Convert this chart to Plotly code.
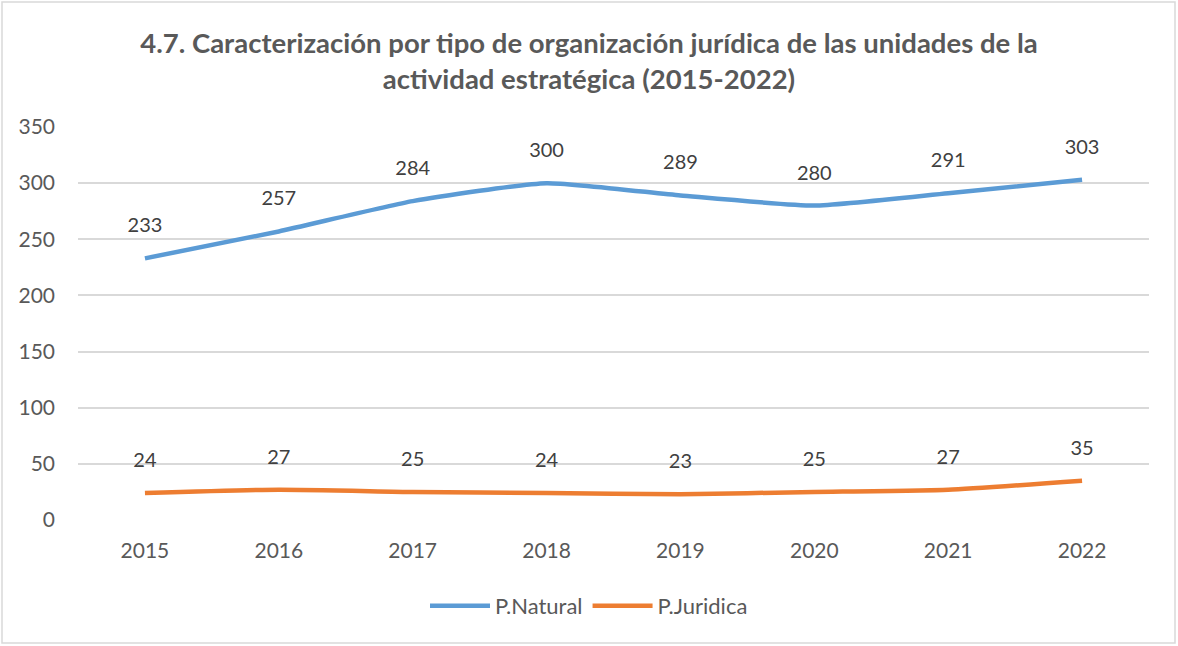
import plotly.graph_objects as go

years = ["2015", "2016", "2017", "2018", "2019", "2020", "2021", "2022"]
natural = [233, 257, 284, 300, 289, 280, 291, 303]
juridica = [24, 27, 25, 24, 23, 25, 27, 35]
y_ticks = [0, 50, 100, 150, 200, 250, 300, 350]

FONT = "Lato, 'Open Sans', sans-serif"
BLUE = "#5B9BD5"
ORANGE = "#ED7D31"

W, H = 1178, 646
ML, MR, MT, MB = 78, 29, 127, 126

fig = go.Figure()
for name, vals, color in [("P.Natural", natural, BLUE), ("P.Juridica", juridica, ORANGE)]:
    fig.add_trace(go.Scatter(
        x=years, y=vals, name=name, mode="lines",
        line=dict(color=color, width=4.5, shape="spline", smoothing=0.5),
        hoverinfo="x+y",
    ))
for vals in (natural, juridica):
    # value labels sit above each point; the invisible marker sets the gap
    fig.add_trace(go.Scatter(
        x=years, y=vals, mode="markers+text", text=[str(v) for v in vals],
        textposition="top center", showlegend=False, hoverinfo="skip",
        marker=dict(size=32, opacity=0),
        textfont=dict(family=FONT, size=20, color="#404040"),
        cliponaxis=False,
    ))

# outer chart frame
pw = W - ML - MR
ph = H - MT - MB
fig.add_shape(type="rect", xref="paper", yref="paper",
              x0=(2 - ML) / pw, x1=(W - 3 - ML) / pw,
              y0=-(H - 3 - MT - ph) / ph, y1=1 + (MT - 2) / ph,
              line=dict(color="#D9D9D9", width=1.5), layer="below")

# legend centred on the whole chart rather than the plot area
legend_x = (W / 2 - ML) / pw

fig.update_layout(
    width=W, height=H,
    margin=dict(l=ML, r=MR, t=MT, b=MB, autoexpand=False),
    paper_bgcolor="white", plot_bgcolor="white",
    title=dict(
        text="<b>4.7. Caracterización por tipo de organización jurídica de las unidades de la<br>actividad estratégica (2015-2022)</b>",
        x=0.5, xref="container", xanchor="center", y=0.918, yanchor="top",
        font=dict(family=FONT, size=27.5, color="#595959"),
    ),
    font=dict(family=FONT, size=19, color="#595959"),
    xaxis=dict(type="category", range=[-0.5, 7.5], showgrid=False,
               showline=False, zeroline=False, tickangle=0,
               ticks="outside", ticklen=12, tickcolor="rgba(0,0,0,0)",
               tickfont=dict(family=FONT, size=21, color="#595959")),
    yaxis=dict(range=[0, 350], tickvals=y_ticks, showgrid=True,
               gridcolor="#D9D9D9", gridwidth=1.5, zeroline=False,
               showline=False, ticklabelstandoff=22,
               tickfont=dict(family=FONT, size=21, color="#595959")),
    legend=dict(orientation="h", x=legend_x, xanchor="center",
                y=-0.165, yanchor="top",
                font=dict(family=FONT, size=22, color="#595959"),
                itemwidth=60, tracegroupgap=0),
    showlegend=True,
)

fig.write_html("out.html")
